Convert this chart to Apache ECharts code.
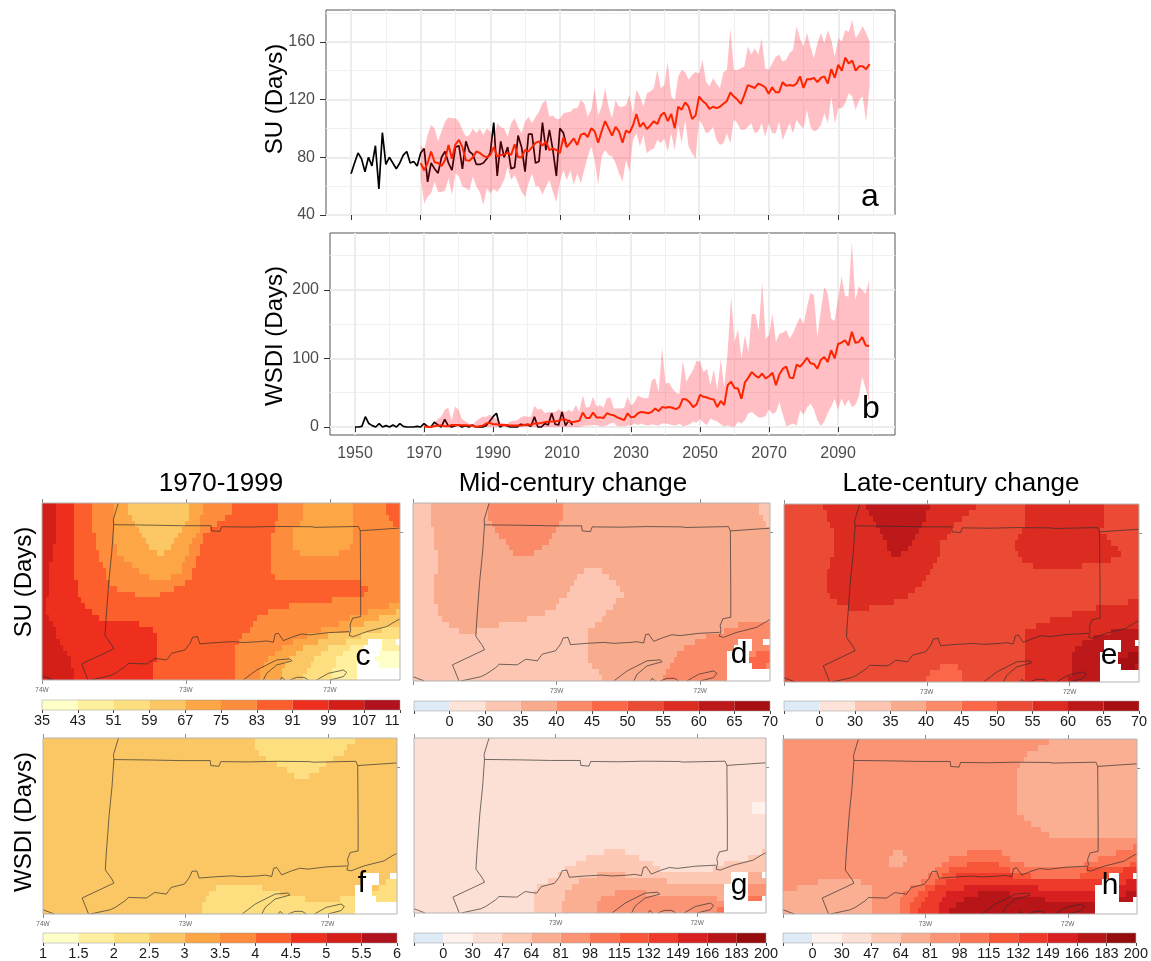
<!DOCTYPE html>
<html><head><meta charset="utf-8">
<style>html,body{margin:0;padding:0;background:#fff}#c{width:1151px;height:961px}</style>
<script src="https://cdn.jsdelivr.net/npm/echarts@6/dist/echarts.min.js"></script>
</head><body><div id="c"></div>
<script>
// ---------- time series values ----------
const obsStart = 1950, modelStart = 1970;
const suObs = [68.5,76,83,79,70,80,74,88,58,97,75,80,76,72,76,81.5,84,76,77,74,83,86,63,76,72,69,80,84,76,71,87,88,72,91,84,82,75,75,76,79,83,104,67,91,80,87,72,73,95,87,70,96,96,76,77,104,85,99,85,67,100,97,87];
const suMean = [76,71,76,84,76.5,76,74,78,88.5,79, 89,92,87,78,77.5,80,84,83,81,80, 81.5,87,80.5,81.6,82,83,81.6,89,80,80, 85,84,87,90,91,88,91,85,86,85, 83,93.6,87,90,93,88.5,
 95.5,96.6,94,100,98,90,98,105,100,95, 101,98,90,98.5,97,102,110,101,104,99.5, 102,105,103,109,111,105,110,100,115,113, 118,115,106.5,109,122,119,117,113.5,115,114, 115,117,119,125,122,120,117,123,130,129, 128,131,130,128.5,124,128.5,125,125,132,129.5, 130,129.5,131,136,128,134,134,135,132,135, 136,131,141,135,144,140,149,145,147,140, 143,143,141,144.5];
const suUpper = [88.5,85,95.5,102.4,100,91,98,104.7,107.5,107, 107,104.7,99,94.3,95.5,100,96.6,100,95.5,100, 98,92,103.6,101,100,94.3,103.6,107,101,96.6, 104.7,108,103.6,108,111.6,117.4,119.7,108,109,106.5, 106.5,110.5,111,111.6,114,114,
 119.7,117.4,108,112.8,127.8,109.3,115,127.8,115,107, 119.7,115,115,116,123,110.5,126.6,122,115,124.3, 125.5,127.8,140.5,127.8,130,146,122,119.7,136,140.5, 139,133.6,137,139,138,147.4,132.4,129,134.7,131, 127.8,139,140.5,169.4,140.5,140.5,141.7,142.8,156.7,151, 155.5,151,162.4,141.7,140.5,145,149.7,151,146.3,147.4, 152,154.4,170.5,162.4,156.7,166,156.7,148.6,159,166, 159,168,161,149.7,162.4,160,168,167,175,162.4, 166,171,166,160];
const suLower = [66.6,48,52.7,55,63,56,56,57,65.5,54, 69,66.6,59.7,58.5,57,66.6,59.7,56,47,58.5, 55,58,56,59.7,64.3,73.5,64.3,67.8,62,56, 52.7,62,69,60,59.7,54,59.7,64.3,56,49, 63,71,64.3,71,61,69,
 62,71,80.5,87.4,78,61,80.5,85,81.6,80.5, 76,69,63,78,70,92,96.6,87.4,95.5,82.8, 85,86,92,89.7,93,84,96.6,85,102.4,89.7, 105.9,87.4,82.8,79,105.9,102.4,96.6,97.8,101,92, 88.5,89.7,96.6,89.7,105.9,103.6,99,99,101,103.6, 96.6,97.8,103.6,94.3,103.6,96.6,96.6,104.7,92,97.8, 103.6,96.6,105.9,102.4,100,112.8,101,97.8,99,102.4, 110.5,103.6,122,103.6,114,114,117.4,124.3,122,112.8, 119.7,122,104.7,129];
const wsdiObs = [0,0,1,15,5,2,0,5,0,2,0,3,0,5,1,0,0,0,1,0,5,1,0,7,3,0,11,2,0,2,3,0,2,0,3,0,0,0,2,8,15,20,0,3,2,0,0,0,4,3,3,1,15,0,0,5,3,20,4,3,22,2,10,3];
const wsdiMean = [1,0,0,1,2,2,1,1,3,3, 3,2.5,2.5,2,2,0,1,2,5,6, 4,4,3,3,3,2,2,2,2,3, 4,3,5,5,6,7,8,8,8,9, 11,11,8,7,8,9,
 21,13,13,21,14,14,13,20,18,17, 14,12,10,20,14,15,20,22,21,20, 22,27,23,29,28,29,28,26,29,41, 40,36,29,33,47,44,43,41,40,29, 38,32,61,66,57,56,41,65,72,80, 75,72,78,71,74,79,61,77,85,88, 72,71,91,88,94,101,93,92,85,98, 102,95,112,100,121,123,126.5,119,139,123, 124,131,119,118];
const wsdiUpper = [0,0,2,5,12,15,25,28,10,30, 25,12,8,5,2,8,12,15,15,18, 15,12,6,6,4,8,9,10,14,16, 15,15,31,25,27,20,22,22,22,26, 23,22,25,22,32,22,
 46,28,30,44,30,32,28,42,43,27, 27,27,28,44,31,36,46,43,42,42, 68,71,51,116,63,65,56,50,48,97, 66,75,83,97,95,80,85,61,84,54, 99,58,110,190,124,143,100,134,109,165, 165,141,212,129,134,165,124,136,138,141, 129,138,150,160,150,175,196,192,131,170, 204,195,158,155,187,219,192,190,270,185, 205,200,194,214];
const wsdiLower = [0,0,0,0,0,0,0,0,0,0, 0,0,0,0,0,0,0,0,0,0, 0,0,0,0,0,0,0,0,0,0, 0,0,0,0,0,0,0,0,0,0, 0,0,0,0,0,0,
 1,2,2,3,3,1,1,2,5,6, 1,1,1,2,2,5,3,5,3,2, 4,3,2,5,5,4,3,2,5,1, 2,4,8,6,12,6,3,12,10,8, 4,1,2,1,0,8,5,10,20,22, 18,14,14,16,26,19,22,36,18,1, 3,5,2,24,18,28,34,26,10,1, 8,20,30,41,25,42,30,40,29,32, 44,73,56,36];
const majorYears = [1950,1970,1990,2010,2030,2050,2070,2090];
const minorYears = [1960,1980,2000,2020,2040,2060,2080,2100];
const suMajor = [40,80,120,160], suMinor = [60,100,140,180];
const wsdiMajor = [0,100,200], wsdiMinor = [50,150,250];

// ---------- map cells: each row is "level:endColumn" runs, x = no data ----------
const mapC = [
"8:4 7:9 6:14 5:20 4:24 3:41 4:45 5:53 6:66 5:73 4:87 5:96 6:100",
"8:4 7:9 6:14 5:20 4:24 3:41 4:45 5:53 6:66 5:73 4:87 5:96 6:100",
"8:4 7:9 6:14 5:20 4:25 3:41 4:44 5:51 6:66 5:73 4:87 5:97 6:100",
"8:4 7:9 6:14 5:20 4:26 3:40 4:44 5:49 6:65 5:72 4:87 5:98 6:100",
"8:4 7:9 6:14 5:20 4:27 3:39 4:44 5:47 6:65 5:70 4:87 5:100",
"8:4 7:9 6:15 5:20 4:28 3:38 4:43 5:45 6:64 5:70 4:87 5:100",
"8:4 7:9 6:15 5:20 4:29 3:37 4:42 5:45 6:64 5:70 4:87 5:100",
"8:3 7:9 6:15 5:21 4:30 3:36 4:41 5:44 6:64 5:70 4:86 5:100",
"8:3 7:9 6:16 5:21 4:32 3:34 4:41 5:44 6:64 5:72 4:83 5:100",
"8:3 7:9 6:16 5:23 4:40 5:43 6:64 5:100",
"8:2 7:9 6:17 5:25 4:39 5:43 6:64 5:100",
"8:2 7:9 6:18 5:27 4:39 5:42 6:64 5:100",
"8:2 7:9 6:18 5:30 4:36 5:42 6:65 5:100",
"8:2 7:10 6:19 5:40 6:89 5:100",
"8:2 7:10 6:21 5:37 6:91 5:100",
"8:2 7:10 6:26 5:33 6:90 5:100",
"8:1 7:11 6:81 5:100",
"8:1 7:12 6:69 5:97 4:100",
"8:1 7:14 6:63 5:91 4:99 3:100",
"8:2 7:16 6:60 5:86 4:94 3:100",
"8:3 7:27 6:59 5:83 4:90 3:100",
"8:4 7:31 6:58 5:78 4:86 3:95 2:100",
"8:4 7:32 6:56 5:74 4:80 3:89 2:100",
"8:5 7:32 6:55 5:70 4:77 3:85 2:91 x:95 1:99 x:100",
"8:6 7:32 6:54 5:67 4:73 3:80 2:86 1:90 x:95 1:100",
"8:7 7:32 6:54 5:65 4:71 3:78 2:84 1:88 x:94 0:100",
"8:8 7:32 6:54 5:63 4:69 3:76 2:82 1:88 x:93 0:100",
"8:8 7:31 6:54 5:62 4:68 3:75 2:82 1:88 x:94 0:100",
"8:9 7:31 6:54 5:61 4:67 3:74 2:81 1:88 x:100",
"8:9 7:31 6:54 5:61 4:67 3:73 2:81 1:88 x:100"];
const mapD = [
"2:5 3:21 4:42 3:97 2:100","2:5 3:21 4:42 3:97 2:100","2:5 3:21 4:42 3:98 2:100","2:5 3:22 4:41 3:99 2:100",
"2:6 3:23 4:40 3:100","2:6 3:24 4:39 3:100","2:6 3:26 4:38 3:100","2:6 3:27 4:36 3:100","2:7 3:28 4:34 3:100",
"2:7 3:100","2:7 3:100","2:7 3:48 2:53 3:100","2:6 3:46 2:55 3:100","2:6 3:45 2:57 3:100","2:6 3:44 2:58 3:100",
"2:6 3:43 2:59 3:100","2:6 3:41 2:57 3:100","2:7 3:40 2:56 3:100","2:7 3:37 2:54 3:100","2:8 3:32 2:53 3:100",
"2:10 3:24 2:51 3:91 4:100","2:13 3:18 2:49 3:87 4:100","2:49 3:82 4:100","2:49 3:79 4:91 x:95 4:98 x:100",
"2:49 3:76 4:90 x:95 4:100","2:49 3:74 4:88 x:94 4:96 5:100","2:49 3:73 4:88 x:94 5:100","2:50 3:72 4:88 x:95 5:99 4:100",
"2:52 3:71 4:88 x:100","2:53 3:70 4:88 x:100"];
const mapE = [
"6:11 7:23 8:41 7:54 6:68 7:90 6:100","6:12 7:24 8:40 7:52 6:68 7:90 6:100","6:12 7:25 8:40 7:50 6:68 7:90 6:100",
"6:13 7:26 8:39 7:48 6:68 7:90 6:100","6:14 7:27 8:38 7:47 6:67 7:89 6:100","6:14 7:28 8:37 7:46 6:66 7:91 6:100",
"6:14 7:29 8:36 7:44 6:65 7:92 6:100","6:14 7:29 8:35 7:44 6:65 7:94 6:100","6:14 7:30 8:33 7:44 6:66 7:95 6:100",
"6:13 7:43 6:67 7:92 6:100","6:13 7:42 6:70 7:84 6:100","6:12 7:41 6:100","6:12 7:40 6:100","6:12 7:39 6:100",
"6:12 7:37 6:100","6:13 7:35 6:100","6:15 7:31 6:97 7:100","6:18 7:24 6:88 7:100","6:81 7:100","6:75 7:100","6:71 7:100",
"6:68 7:92 8:100","6:68 7:87 8:100","6:68 7:84 8:90 x:95 8:99 x:100","6:68 7:82 8:90 x:95 8:100",
"6:68 7:81 8:89 x:94 8:97 9:100","6:68 7:81 8:89 x:94 9:100","6:44 5:49 6:68 7:81 8:89 x:95 9:99 8:100",
"6:41 5:50 6:68 7:81 8:89 x:100","6:40 5:50 6:68 7:80 8:89 x:100"];
const mapF = [
"3:60 2:88 3:100","3:60 2:86 3:100","3:61 2:85 3:100","3:63 2:82 3:100","3:66 2:80 3:100","3:69 2:78 3:100","3:71 2:75 3:100",
"3:100","3:100","3:100","3:100","3:100","3:100","3:100","3:100","3:100","3:100","3:100","3:100","3:100","3:100","3:100","3:100",
"3:90 x:95 3:98 x:100","3:90 x:95 3:97 2:100","3:49 2:62 3:88 x:93 3:95 2:100","3:47 2:67 3:88 x:93 2:100",
"3:46 2:74 3:84 2:88 x:94 2:100","3:45 2:88 x:100","3:45 2:88 x:100"];
const mapG = [
"2:100","2:100","2:100","2:100","2:100","2:100","2:100","2:100","2:100","2:100","2:100",
"2:96 1:100","2:96 1:100","2:100","2:100","2:100","2:100","2:100","2:100",
"2:54 3:60 2:99 3:100","2:49 3:64 2:95 3:100","2:46 3:68 2:88 3:100","2:43 3:70 2:85 3:100",
"2:41 3:52 4:60 3:90 x:95 4:99 x:100","2:38 3:47 4:72 3:90 x:95 4:100","2:35 3:45 4:88 x:95 5:100",
"2:34 3:43 4:57 5:66 4:88 x:95 5:100","2:34 3:43 4:53 5:86 4:88 x:95 6:99 x:100","2:34 3:42 4:52 5:88 x:100","2:34 3:42 4:52 5:86 6:88 x:100"];
const mapH = [
"5:75 4:100","5:72 4:100","5:69 4:100","5:68 4:100","5:67 4:100","5:66 4:100","5:66 4:100","5:66 4:100","5:66 4:100",
"5:66 4:100","5:66 4:100","5:66 4:100","5:66 4:100","5:68 4:100","5:70 4:100","5:73 4:100","5:75 4:100","5:100","5:99 6:100",
"5:31 4:34 5:52 6:62 5:94 6:100","5:30 4:35 5:47 6:64 5:89 6:100","5:30 4:34 5:45 6:52 7:61 6:68 5:85 6:98 7:100",
"5:43 6:47 7:64 6:86 7:96 8:100","5:41 6:45 7:49 8:65 7:70 6:84 7:92 x:95 8:99 x:100",
"5:10 4:22 5:39 6:43 7:46 8:90 x:95 8:97 9:100","5:4 4:25 5:36 6:40 7:43 8:51 9:72 8:88 x:95 9:100",
"4:25 5:34 6:38 7:41 8:46 9:55 10:64 9:88 x:95 9:97 10:100","4:25 5:33 6:37 7:40 8:45 9:51 10:74 9:88 x:95 10:99 x:100",
"4:25 5:33 6:36 7:39 8:44 9:49 10:88 x:100","4:25 5:33 6:36 7:38 8:44 9:47 10:88 x:100"];

// ---------- boundaries (lon, lat) ----------
const nyBorder = [[-73.47,42.2],[-73.505,42.087],[-73.502,42.053],[-73.516,41.86],[-73.535,41.679],[-73.556,41.408],[-73.5625,41.301],[-73.516,41.238],[-73.502,41.211],[-73.725,41.109],[-73.68,41.0]];
const njCorner = [[-74,41.029],[-73.921,41.0]];
const northBorder = [[-73.502,42.053],[-73.25,42.05],[-73.03,42.046],[-72.826,42.046],[-72.822,42.012],[-72.764,42.007],[-72.752,42.039],[-72.556,42.037],[-72.37,42.041],[-72.127,42.039],[-72.104,42.035],[-71.803,42.041],[-71.79,42.012],[-71.514,42.03]];
const eastBorder = [[-71.79,42.012],[-71.787,41.611],[-71.787,41.43],[-71.843,41.419],[-71.861,41.374],[-71.856,41.34],[-71.866,41.301]];
const ctCoast = [[-73.667,41],[-73.528,41.029],[-73.493,41.045],[-73.424,41.09],[-73.4,41.113],[-73.273,41.109],[-73.215,41.147],[-73.134,41.136],[-73.1,41.181],[-73.007,41.204],[-72.972,41.249],[-72.954,41.29],[-72.921,41.294],[-72.903,41.245],[-72.787,41.254],[-72.671,41.26],[-72.602,41.254],[-72.486,41.26],[-72.44,41.265],[-72.394,41.256],[-72.38,41.312],[-72.359,41.317],[-72.324,41.267],[-72.255,41.294],[-72.197,41.312],[-72.139,41.306],[-72.012,41.321],[-71.866,41.328]];
const riCoast = [[-71.866,41.301],[-71.838,41.294],[-71.745,41.328],[-71.606,41.362],[-71.549,41.396],[-71.514,41.414]];
const northFork = [[-72.602,41],[-72.509,41.068],[-72.37,41.136],[-72.278,41.143],[-72.266,41.129],[-72.37,41.102],[-72.44,41.045],[-72.463,41]];
const shelter = [[-72.347,41],[-72.336,41.018],[-72.312,41]];
const southFork = [[-72.278,41],[-72.231,41.018],[-72.18,41.018],[-72.15,41]];
const montauk = [[-72.093,41],[-72.012,41.045],[-71.907,41.068],[-71.884,41.052],[-71.907,41.023],[-72.0,41]];
const boundaries = [nyBorder,njCorner,northBorder,eastBorder,ctCoast,riCoast,northFork,shelter,southFork,montauk];
const lonTicks = [-74,-73,-72], latTicks = [42];

// ---------- colour scales and colour bar labels ----------
const warmColors = ["#ffffc8","#fff09f","#fddf80","#fbc765","#fda646","#fd8d3c","#fc5f2b","#ee2f1e","#d41e18","#b0121e"];
const suChange = ["#deeaf6","#fde3d8","#fcc6b3","#f9ab8e","#fb8b68","#fb6749","#eb4a35","#dc2b20","#bd191b","#a61013"];
const wsdiChange = ["#deeaf6","#fff2ec","#fde0d5","#fdc9b4","#faae92","#fb9475","#fb7555","#f75638","#ee3a2a","#d92020","#b81518","#960b0b"];
const labelsC = ["35","43","51","59","67","75","83","91","99","107","11\u00a0\u00a0\u00a0\u00a0"];
const labelsSuChange = ["","0","30","35","40","45","50","55","60","65","70"];
const labelsF = ["1","1.5","2","2.5","3","3.5","4","4.5","5","5.5","6"];
const labelsWsdiChange = ["","0","30","47","64","81","98","115","132","149","166","183","200"];

// ---------- panels ----------
const mapPanels = [
 {cells:mapC, colors:warmColors,   lab:labelsC,         left:42,  top:503,width:358,height:177, barL:42,  barT:700,barW:358, first:true},
 {cells:mapD, colors:suChange,     lab:labelsSuChange,  left:413, top:503,width:357,height:178, barL:414, barT:701,barW:356},
 {cells:mapE, colors:suChange,     lab:labelsSuChange,  left:784, top:504,width:355,height:178, barL:784, barT:701,barW:355},
 {cells:mapF, colors:warmColors,   lab:labelsF,         left:43,  top:738,width:354,height:176, barL:43,  barT:933,barW:354, first:true},
 {cells:mapG, colors:wsdiChange,   lab:labelsWsdiChange,left:414, top:738,width:352,height:175, barL:414, barT:933,barW:352},
 {cells:mapH, colors:wsdiChange,   lab:labelsWsdiChange,left:783, top:739,width:354,height:175, barL:783, barT:933,barW:354}
];
function runsOf(rowsText){
  const out=[];
  rowsText.forEach((t,r)=>{let c=0;t.split(' ').forEach(run=>{const [l,e]=run.split(':');
    if(l!=='x') out.push([c,+e,r,+l]); c=+e;});});
  return out;
}
const font='"Liberation Sans",Helvetica,Arial,sans-serif';
const grid=[],xAxis=[],yAxis=[],series=[];
function addGrid(g){grid.push(g);return grid.length-1;}
function addX(a){xAxis.push(a);return xAxis.length-1;}
function addY(a){yAxis.push(a);return yAxis.length-1;}

// map cell layers
mapPanels.forEach(p=>{
  const g=addGrid({left:p.left,top:p.top,width:p.width,height:p.height,z:1});
  const x=addX({type:'value',gridIndex:g,min:0,max:100,show:false,splitLine:{show:false}});
  const y=addY({type:'value',gridIndex:g,min:0,max:30,inverse:true,show:false,splitLine:{show:false}});
  series.push({type:'custom',xAxisIndex:x,yAxisIndex:y,silent:true,z:1,data:runsOf(p.cells),encode:{x:[0,1],y:2},
    renderItem:(params,api)=>{
      const r=api.value(2),a=api.coord([api.value(0),r]),b=api.coord([api.value(1),r+1]);
      const x0=Math.round(a[0]),y0=Math.round(a[1]),x1=Math.round(b[0]),y1=Math.round(b[1]);
      return {type:'rect',shape:{x:x0,y:y0,width:x1-x0,height:y1-y0},style:{fill:p.colors[api.value(3)]}};
    }});
});
// boundaries, frames, ticks
mapPanels.forEach(p=>{
  const g=addGrid({left:p.left,top:p.top,width:p.width,height:p.height,show:true,z:10,backgroundColor:'transparent',borderColor:'#b4b4b4',borderWidth:1});
  const tick={show:true,length:4,lineStyle:{color:'#8c8c8c',width:1},customValues:lonTicks};
  const x=addX({type:'value',gridIndex:g,min:-74,max:-71.514,position:'bottom',splitLine:{show:false},axisLine:{show:false},axisTick:tick,
    axisLabel:{customValues:p.first?lonTicks:lonTicks.slice(1),color:'#666',fontSize:6.5,fontFamily:font,margin:7,formatter:v=>Math.abs(v)+'W'}});
  addX({type:'value',gridIndex:g,min:-74,max:-71.514,position:'top',splitLine:{show:false},axisLine:{show:false},axisTick:tick,axisLabel:{show:false}});
  const ytick={show:true,length:3,lineStyle:{color:'#8c8c8c',width:1},customValues:latTicks};
  const y=addY({type:'value',gridIndex:g,min:41,max:42.2,position:'right',splitLine:{show:false},axisLine:{show:false},axisTick:ytick,axisLabel:{show:false}});
  boundaries.forEach(b=>series.push({type:'line',xAxisIndex:x,yAxisIndex:y,data:b,showSymbol:false,symbol:'none',z:5,silent:true,
    lineStyle:{color:'#2e2e2e',width:0.8,opacity:0.85}}));
});
// colour bars
mapPanels.forEach(p=>{
  const g=addGrid({left:p.barL,top:p.barT,width:p.barW,height:10,show:true,borderColor:'#999',borderWidth:0.5,z:4,backgroundColor:'transparent'});
  const n=p.colors.length, ticks=Array.from({length:n+1},(_,i)=>i);
  const x=addX({type:'value',gridIndex:g,min:0,max:n,splitLine:{show:false},axisLine:{show:false},
    axisTick:{show:true,length:3,lineStyle:{color:'#444',width:1},customValues:ticks},
    axisLabel:{customValues:ticks,color:'#1a1a1a',fontSize:14.5,fontFamily:font,margin:3,hideOverlap:false,formatter:v=>p.lab[v]}});
  const y=addY({type:'value',gridIndex:g,min:0,max:1,show:false});
  series.push({type:'custom',xAxisIndex:x,yAxisIndex:y,silent:true,data:p.colors.map((c,i)=>[i,i]),
    encode:{x:0},renderItem:(params,api)=>{
      const i=api.value(0),a=api.coord([i,1]),b=api.coord([i+1,0]);
      return {type:'rect',shape:{x:a[0],y:a[1],width:b[0]-a[0],height:b[1]-a[1]},style:{fill:p.colors[i]}};
    }});
});
// time-series panels
function panel(o){
  const g=addGrid({left:o.left,top:o.top,width:o.width,height:o.height,show:true,borderColor:'#555',borderWidth:1,backgroundColor:'#fff',z:0});
  const gl={show:true,lineStyle:{color:'#ececec',width:2}}, gm={show:true,lineStyle:{color:'#f0f0f0',width:1}};
  const x=addX({type:'value',gridIndex:g,min:o.xMin,max:o.xMax,position:'bottom',splitLine:gl,axisLine:{show:false},
    axisTick:{show:true,length:5,lineStyle:{color:'#333',width:1},customValues:majorYears},
    axisLabel:o.showX?{customValues:majorYears,color:'#4d4d4d',fontSize:16,fontFamily:font,margin:11,formatter:v=>String(v)}:{show:false}});
  addX({type:'value',gridIndex:g,min:o.xMin,max:o.xMax,position:'top',show:true,axisLine:{show:false},axisLabel:{show:false},
    axisTick:{show:false,customValues:minorYears},splitLine:gm});
  const y=addY({type:'value',gridIndex:g,min:o.yMin,max:o.yMax,position:'left',splitLine:gl,axisLine:{show:false},
    axisTick:{show:true,length:6,lineStyle:{color:'#333',width:1},customValues:o.major},
    axisLabel:{customValues:o.major,color:'#4d4d4d',fontSize:16,fontFamily:font,margin:11,formatter:v=>String(v)}});
  addY({type:'value',gridIndex:g,min:o.yMin,max:o.yMax,position:'right',show:true,axisLine:{show:false},axisLabel:{show:false},
    axisTick:{show:false,customValues:o.minor},splitLine:gm});
  const base={xAxisIndex:x,yAxisIndex:y,silent:true};
  const line={...base,type:'line',showSymbol:false,symbol:'none'};
  series.push({...line,name:'observed',data:o.obs.map((v,i)=>[obsStart+i,v]),z:3,lineStyle:{color:'#000',width:1.7}});
  const band=o.lower.map((v,i)=>[modelStart+i,v,o.upper[i]]);
  series.push({...base,type:'custom',name:'range',z:4,data:band,encode:{x:0,y:[1,2]},clip:true,
    renderItem:(params,api)=>{
      if(params.dataIndex!==0) return;
      const top=band.map(d=>api.coord([d[0],d[2]]));
      const bot=band.map(d=>api.coord([d[0],d[1]])).reverse();
      return {type:'polygon',shape:{points:top.concat(bot)},style:{fill:'rgba(255,0,20,0.25)'}};
    }});
  series.push({...line,name:'mean',data:o.mean.map((v,i)=>[modelStart+i,v]),z:5,lineStyle:{color:'#ff2400',width:2}});
}
panel({left:326,top:10,width:569,height:205,xMin:1942.8,xMax:2106.3,yMin:40,yMax:182,major:suMajor,minor:suMinor,showX:false,obs:suObs,lower:suLower,upper:suUpper,mean:suMean});
panel({left:330,top:233,width:565,height:202,xMin:1942.75,xMax:2106.5,yMin:-11.7,yMax:283,major:wsdiMajor,minor:wsdiMinor,showX:true,obs:wsdiObs,lower:wsdiLower,upper:wsdiUpper,mean:wsdiMean});

// text
const txt=(text,x,y,size,rot)=>({type:'text',x,y,rotation:rot||0,z:50,silent:true,
  style:{text,fill:'#000',font:size+'px '+font,textAlign:'center',textVerticalAlign:'middle',align:'center',verticalAlign:'middle'}});
const R=Math.PI/2;
const graphic=[
 txt('SU (Days)',275,99,24,R),txt('WSDI (Days)',275,336,24,R),
 txt('SU (Days)',24,582,24,R),txt('WSDI (Days)',24,822,24,R),
 txt('1970-1999',221,484,26),txt('Mid-century change',573,484,26),txt('Late-century change',961,484,26),
 txt('a',870,197,32),txt('b',871,409,32),
 txt('c',363,657,30),txt('d',739,655,30),txt('e',1109,656,30),
 txt('f',362,884,30),txt('g',739,886,30),txt('h',1110,886,30)
];

const chart=echarts.init(document.getElementById('c'),null,{renderer:'canvas'});
chart.setOption({animation:false,backgroundColor:'#fff',tooltip:{show:false},grid,xAxis,yAxis,series,graphic});
</script></body></html>
